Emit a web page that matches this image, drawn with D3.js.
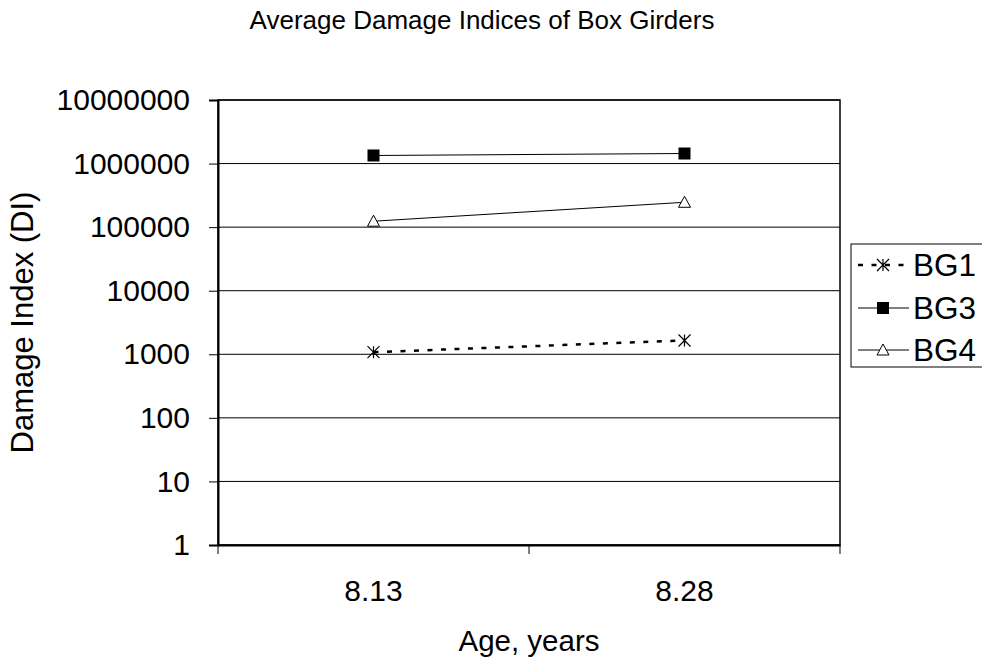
<!DOCTYPE html>
<html><head><meta charset="utf-8">
<script src="https://cdn.jsdelivr.net/npm/d3@7/dist/d3.min.js"></script>
<style>body{margin:0;background:#fff}svg text{font-family:"Liberation Sans",Arial,sans-serif;fill:#000}</style>
</head><body><svg id="c" width="982" height="664"></svg>
<script>
const categories = ["8.13", "8.28"];
const seriesNames = ["BG1", "BG3", "BG4"];
const BG1 = [1080, 1650];
const BG3 = [1340000, 1440000];
const BG4 = [124000, 246000];
const yTicks = [1, 10, 100, 1000, 10000, 100000, 1000000, 10000000];
const title = "Average Damage Indices of Box Girders";
const yTitle = "Damage Index (DI)";
const xTitle = "Age, years";

const svg = d3.select("#c");
const L = 218, R = 840, T = 100, B = 545;
const x = d3.scaleBand().domain(categories).range([L, R]);
const y = d3.scaleLog().domain([1, 1e7]).range([B, T]);
const FONT = "Liberation Sans, Arial, sans-serif";

// gridlines
svg.append("g").selectAll("line").data(yTicks).join("line")
  .attr("x1", L).attr("x2", R).attr("y1", d => y(d)).attr("y2", d => y(d))
  .attr("stroke", "#000").attr("stroke-width", 1);

// frame
svg.append("rect").attr("x", L).attr("y", T).attr("width", R - L).attr("height", B - T)
  .attr("fill", "none").attr("stroke", "#000").attr("stroke-width", 1.5);

// y axis
const yAxis = d3.axisLeft(y).tickValues(yTicks).tickFormat(d3.format("d")).tickSize(9).tickPadding(19);
const gy = svg.append("g").attr("transform", `translate(${L},0)`).call(yAxis);
gy.attr("font-size", 30).attr("font-family", FONT);
gy.select(".domain").attr("stroke-width", 2);

// x axis
const xAxis = d3.axisBottom(x).tickSize(0).tickPadding(35);
const gx = svg.append("g").attr("transform", `translate(0,${B})`).call(xAxis);
gx.attr("font-size", 30).attr("font-family", FONT);
gx.select(".domain").attr("stroke-width", 2);
// band boundary ticks
const bounds = [L, L + x.step(), R];
svg.append("g").selectAll("line").data(bounds).join("line")
  .attr("x1", d => d).attr("x2", d => d).attr("y1", B).attr("y2", B + 9)
  .attr("stroke", "#000").attr("stroke-width", 1);

const cx = d => x(d) + x.bandwidth() / 2;
const line = d3.line().x(d => cx(d.c)).y(d => y(d.v));
const mk = arr => categories.map((c, i) => ({ c, v: arr[i] }));

function drawMarker(g, type, px, py) {
  if (type === "star") {
    const s = 6;
    g.append("path").attr("d", `M${px - s},${py - s}L${px + s},${py + s}M${px - s},${py + s}L${px + s},${py - s}M${px},${py - s}L${px},${py + s}`)
      .attr("stroke", "#000").attr("stroke-width", 1.2).attr("fill", "none");
  } else if (type === "square") {
    g.append("rect").attr("x", px - 6).attr("y", py - 6).attr("width", 12).attr("height", 12).attr("fill", "#000");
  } else {
    g.append("path").attr("d", `M${px},${py - 6}L${px + 6},${py + 5}L${px - 6},${py + 5}Z`)
      .attr("fill", "#fff").attr("stroke", "#000").attr("stroke-width", 1);
  }
}

const series = [
  { name: seriesNames[0], data: BG1, dash: "5,8.5", w: 2.5, m: "star" },
  { name: seriesNames[1], data: BG3, dash: null, w: 1, m: "square" },
  { name: seriesNames[2], data: BG4, dash: null, w: 1, m: "tri" }
];

series.forEach(s => {
  const g = svg.append("g");
  g.append("path").datum(mk(s.data)).attr("d", line).attr("fill", "none")
    .attr("stroke", "#000").attr("stroke-width", s.w).attr("stroke-dasharray", s.dash);
  mk(s.data).forEach(d => drawMarker(g, s.m, cx(d.c), y(d.v)));
});

// legend
const lg = svg.append("g");
lg.append("rect").attr("x", 851).attr("y", 244).attr("width", 140).attr("height", 123)
  .attr("fill", "#fff").attr("stroke", "#000").attr("stroke-width", 1);
const rowY = [265, 308, 350];
series.forEach((s, i) => {
  const ly = rowY[i];
  lg.append("line").attr("x1", 858).attr("x2", 909).attr("y1", ly).attr("y2", ly)
    .attr("stroke", "#000").attr("stroke-width", s.w).attr("stroke-dasharray", s.dash);
  drawMarker(lg, s.m, 883, ly);
  lg.append("text").attr("x", 913).attr("y", ly + 11).attr("font-size", 31.5).text(s.name);
});

// titles
svg.append("text").attr("x", 482).attr("y", 29).attr("text-anchor", "middle").attr("font-size", 26).text(title);
svg.append("text").attr("transform", `translate(33,${(T + B) / 2}) rotate(-90)`).attr("text-anchor", "middle")
  .attr("font-size", 31).text(yTitle);
svg.append("text").attr("x", (L + R) / 2).attr("y", 651).attr("text-anchor", "middle").attr("font-size", 29.5).text(xTitle);
</script></body></html>
